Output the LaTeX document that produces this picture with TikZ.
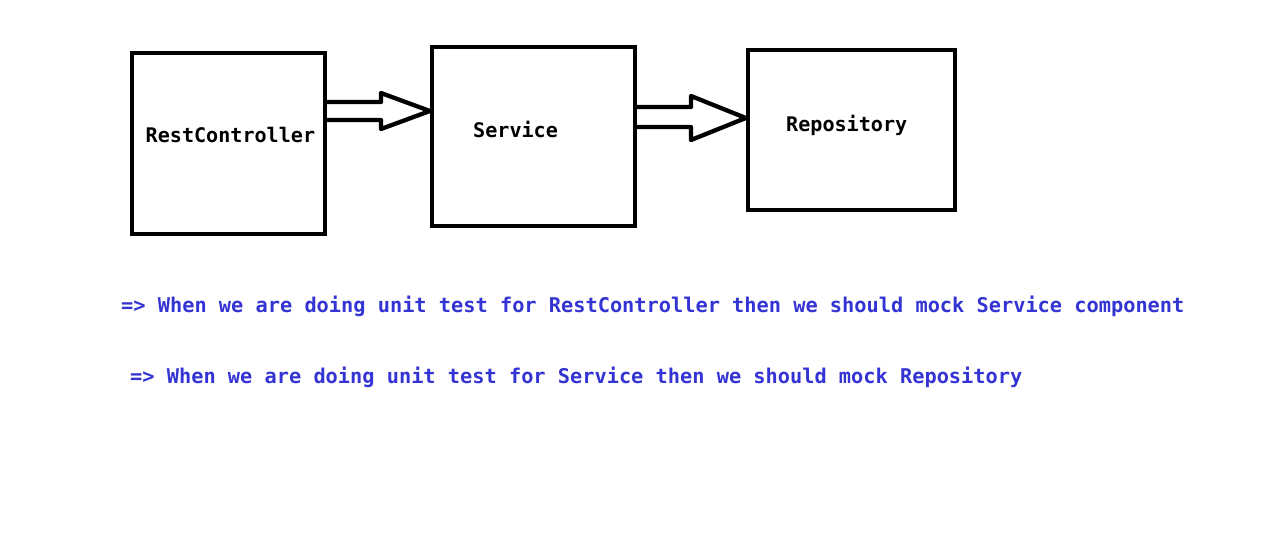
\documentclass[tikz,border=0pt]{standalone}
\usepackage{fontspec}
\setmonofont{DejaVu Sans Mono}
\usetikzlibrary{calc}
\definecolor{noteblue}{RGB}{52,52,212}
\tikzset{
  box/.style={draw=black, line width=4.3pt, minimum width=#1, inner sep=0pt},
  boxlabel/.style={font=\ttfamily\bfseries\fontsize{20.1}{24}\selectfont, text=black, anchor=base west, inner sep=0pt},
  note/.style={font=\ttfamily\bfseries\fontsize{20.3}{24}\selectfont, text=noteblue, anchor=base west, inner sep=0pt},
  blockarrow/.style={draw=black, line width=4.3pt, line join=round, fill=white}
}
\begin{document}
\begin{tikzpicture}[x=1pt,y=-1pt]
\useasboundingbox[fill=white] (0,0) rectangle (1280,558);
\node[box=193pt, minimum height=181pt] (b1) at (228.5,143.5) {};
\node[box=203pt, minimum height=179pt] (b2) at (533.5,136.5) {};
\node[box=207pt, minimum height=160pt] (b3) at (851.5,130) {};
\node[boxlabel] (l1) at (145.5,142) {RestController};
\node[boxlabel] (l2) at (473,137) {Service};
\node[boxlabel] (l3) at (786,131) {Repository};
\draw[blockarrow] (b1.east |- 0,102) -- (381,102) -- (381,93) -- (b2.west |- 0,111) -- (381,129) -- (381,120) -- (b1.east |- 0,120);
\draw[blockarrow] (b2.east |- 0,107) -- (691,107) -- (691,96) -- (b3.west |- 0,118) -- (691,140) -- (691,127) -- (b2.east |- 0,127);
\node[note] (n1) at (121,312) {=> When we are doing unit test for RestController then we should mock Service component};
\node[note] (n2) at (130,383) {=> When we are doing unit test for Service then we should mock Repository};
\end{tikzpicture}
\end{document}
